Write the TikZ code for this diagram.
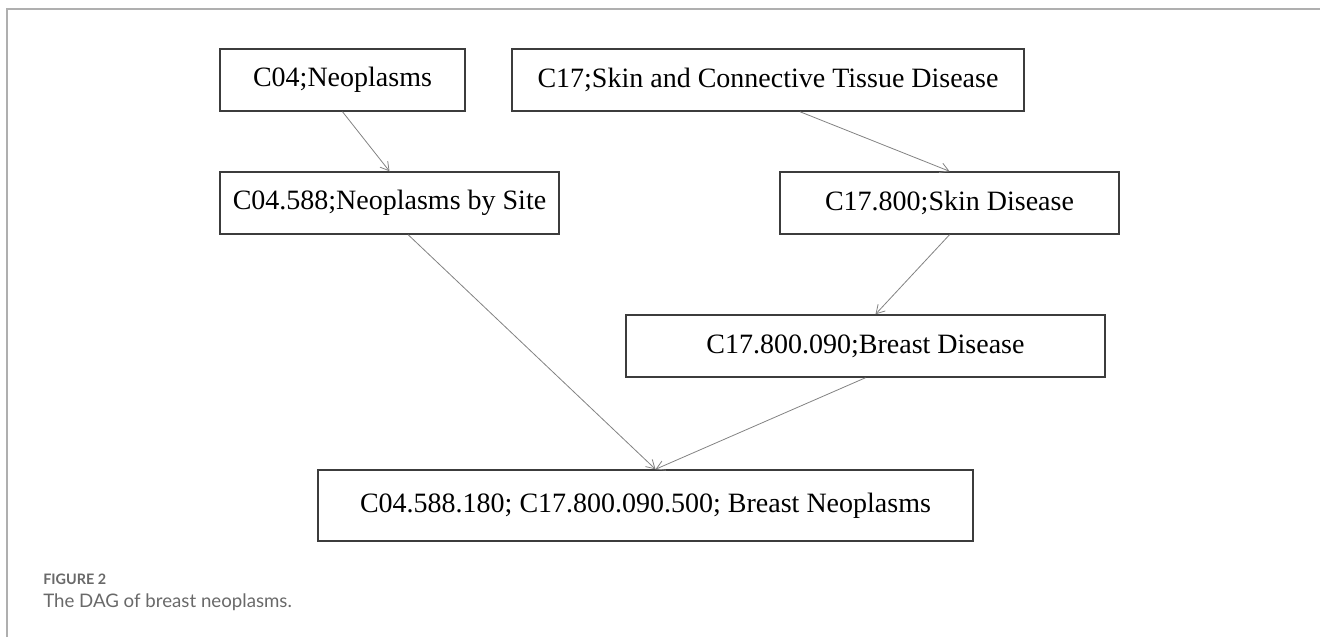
\documentclass[tikz,border=0pt]{standalone}
\usepackage{fontspec}
\setmainfont{Liberation Serif}
\newfontfamily\capfont{Lato}
\usepackage{tikz}
\usetikzlibrary{arrows.meta, positioning}
\definecolor{framegray}{RGB}{175,175,175}
\definecolor{boxline}{RGB}{60,60,60}
\definecolor{arrgray}{RGB}{130,130,130}
\definecolor{capgray}{RGB}{105,105,105}

\begin{document}
\begin{tikzpicture}[
    x=0.75pt, y=-0.75pt,
    arr/.style={-{Straight Barb[length=2.2mm, width=2.6mm]}, line width=0.6pt, arrgray},
    term/.style={draw=boxline, line width=1.1pt, rectangle, inner sep=0pt,
                 minimum height=46.5pt, align=center, font=\fontsize{21}{24}\selectfont},
    caption/.style={anchor=base west, inner sep=0pt, text=capgray},
]
\useasboundingbox (0,0) rectangle (1320,637);
% page frame
\draw[framegray, line width=1pt] (7,637) -- (7,9) -- (1320,9);

\node[term, minimum width=183.75pt] (neo) at (342.5,80) {C04;Neoplasms};
\node[term, minimum width=384pt] (skin) at (768,80) {C17;Skin and Connective Tissue Disease};
\node[term, minimum width=254.25pt] (site) at (389.5,203) {C04.588;Neoplasms by Site};
\node[term, minimum width=254.25pt] (skindis) at (949.5,203) {C17.800;Skin Disease};
\node[term, minimum width=359.25pt] (breastdis) at (865.5,346) {C17.800.090;Breast Disease};
\node[term, minimum width=491.25pt, minimum height=53.25pt] (breastneo) at (645.5,505.5) {C04.588.180; C17.800.090.500; Breast Neoplasms};
\coordinate (meet) at ([xshift=7.5pt]breastneo.north);

\draw[arr] (neo.south) -- (site.north);
\draw[arr] ([xshift=24pt]skin.south) -- (skindis.north);
\draw[arr] (skindis.south) -- ([xshift=7.5pt]breastdis.north);
\draw[arr] ([xshift=14pt]site.south) -- (meet);
\draw[arr] (breastdis.south) -- (meet);

\node[caption, font=\capfont\bfseries\fontsize{10.8}{12}\selectfont] (fig) at (43,584) {FIGURE 2};
\node[caption, font=\capfont\fontsize{14}{16}\selectfont] (cap) at (43,607) {The DAG of breast neoplasms.};
\end{tikzpicture}
\end{document}
